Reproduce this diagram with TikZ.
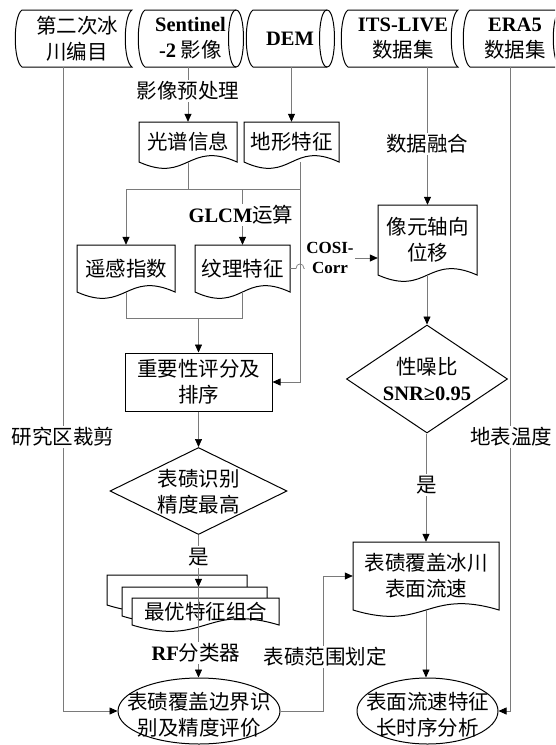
\documentclass[tikz,border=0pt]{standalone}
\usepackage{fontspec}
\setmainfont{Liberation Serif}
\newfontfamily\cjk{Noto Sans CJK SC}
\usetikzlibrary{shapes.geometric,arrows.meta}
\definecolor{linegray}{HTML}{7A7A7A}
\newcommand\en[1]{{\rmfamily\bfseries #1}}
% document shape: name, x1, y1, x2, y2 (rect part), text
\newcommand\docbox[6]{%
  \draw[shapeline,fill=white] (#2,#3) -- (#4,#3) -- (#4,#5)
    .. controls ({(#2+#4)/2},#5-22) and ({(#2+#4)/2},#5+22) .. (#2,#5) -- cycle;
  \node[txt,minimum width={(#4-#2)*1pt},minimum height={(#5-#3)*1pt}] (#1) at ({(#2+#4)/2},{(#3+#5)/2}) {#6};
}
% stored data shape
\newcommand\storebox[6]{%
  \draw[shapeline,fill=white] (#2,#3) -- (#4,#3)
    .. controls (#4-9,#3+6) and (#4-9,#5-6) .. (#4,#5) -- (#2,#5)
    .. controls (#2-9,#5-6) and (#2-9,#3+6) .. (#2,#3) -- cycle;
  \node[txt,minimum width={(#4-#2)*1pt},minimum height={(#5-#3)*1pt}] (#1) at ({(#2+#4)/2},{(#3+#5)/2}) {#6};
}
% direct access storage (cylinder) shape
\newcommand\cylbox[6]{%
  \draw[shapeline,fill=white] (#2,#3) -- (#4,#3)
    .. controls (#4+10,#3) and (#4+10,#5) .. (#4,#5) -- (#2,#5)
    .. controls (#2-9,#5-6) and (#2-9,#3+6) .. (#2,#3) -- cycle;
  \draw[shapeline] (#4,#3) .. controls (#4-10,#3) and (#4-10,#5) .. (#4,#5);
  \node[txt,minimum width={(#4-#2)*1pt},minimum height={(#5-#3)*1pt}] (#1) at ({(#2+#4)/2},{(#3+#5)/2}) {#6};
}
\begin{document}
\begin{tikzpicture}[x=1pt,y=-1pt,
  shapeline/.style={draw=black,line width=1pt},
  txt/.style={font=\fontsize{20.5}{26}\selectfont\cjk,align=center,inner sep=0pt},
  conn/.style={draw=linegray,line width=0.7pt},
  arr/.style={conn,-{Triangle[length=8pt,width=7pt,color=black]}},
  lbl/.style={txt,fill=white,inner sep=1.5pt}]
\useasboundingbox (0,0) rectangle (555,745);
\fill[white] (0,0) rectangle (555,745);
\clip (0,0) rectangle (555,745);

% top row
\storebox{b1}{22}{10}{132}{67}{第二次冰\\川编目}
\cylbox{b2}{145}{10}{236}{67}{\en{Sentinel}\\\en{-2} 影像}
\cylbox{b3}{253}{10}{327}{67}{\en{DEM}}
\storebox{b4}{348}{10}{458}{67}{\en{ITS-LIVE}\\数据集}
\storebox{b5}{470}{10}{560}{67}{\en{ERA5}\\数据集}

% left column
\docbox{spec}{139}{122}{237}{162}{光谱信息}
\docbox{terr}{244}{122}{339}{162}{地形特征}
\docbox{rs}{77}{245}{175}{292}{遥感指数}
\docbox{tex}{195}{245}{290}{292}{纹理特征}
\node[txt,shapeline,draw,rectangle,minimum width=147pt,minimum height=58pt] (imp) at (198.5,382) {重要性评分及\\排序};
\node[shapeline,diamond,minimum width=177pt,minimum height=87pt,inner sep=0pt] (d1) at (198.5,491) {};
\node[txt] (d1t) at (198.5,492) {表碛识别\\精度最高};
\docbox{md1}{107}{575}{247}{605}{}
\docbox{md2}{122}{587}{267}{616}{}
\docbox{md3}{132}{598}{279}{625}{最优特征组合}
\node[shapeline,ellipse,minimum width=162pt,minimum height=66pt,inner sep=0pt] (e1) at (199,711) {};
\node[txt] (e1t) at (199,715) {表碛覆盖边界识\\别及精度评价};

% right column
\docbox{pix}{378}{205}{477}{275}{像元轴向\\位移}
\node[shapeline,diamond,minimum width=161pt,minimum height=108pt,inner sep=0pt] (snr) at (427,379) {};
\node[txt] (snrt) at (427,379) {性噪比\\\en{SNR≥0.95}};
\docbox{vel}{353}{542}{499}{610}{表碛覆盖冰川\\表面流速}
\node[shapeline,ellipse,minimum width=141pt,minimum height=66pt,inner sep=0pt] (e2) at (427.5,711) {};
\node[txt] (e2t) at (427.5,715) {表面流速特征\\长时序分析};

\node[lbl,font=\fontsize{17}{20}\selectfont] (cosi) at (330,258) {\en{COSI-}\\\en{Corr}};

% connectors
\coordinate (hj) at (0,189);
\coordinate (hj2) at (0,318);
\coordinate (tk) at (323,711);
\draw[arr] ([xshift=-14pt]b1.south) |- (e1.west);
\draw[arr] (spec.north |- b2.south) -- (spec.north);
\draw[arr] (terr.north |- b3.south) -- (terr.north);
\draw[arr] (pix.north |- b4.south) -- (pix.north);
\draw[arr] ([xshift=-5pt]b5.south) |- (e2.east);

\draw[conn] (spec.south) -- (spec.south |- hj);
\draw[conn] (rs.north |- hj) -- ([xshift=8.5pt]terr.south |- hj);
\draw[arr] (rs.north |- hj) -- (rs.north);
\draw[arr] (tex.north |- hj) -- (tex.north);
\draw[arr] ([xshift=8.5pt]terr.south) |- (imp.east);

\draw[conn] (rs.south) |- (tex.south |- hj2) -- (tex.south);
\draw[arr] (imp.north |- hj2) -- (imp.north);

\draw[conn] (tex.east) -- (296,268.5) .. controls (296,262.5) and (304,262.5) .. (304,268.5) -- (cosi.west |- tex.east);
\draw[arr] (cosi.east) -- (cosi.east -| pix.west);

\draw[arr] (snr.north |- pix.south) -- (snr.north);
\draw[arr] (vel.north |- snr.south) -- (vel.north);
\draw[arr] (vel.south) -- (vel.south |- e2.north);

\draw[arr] (imp.south) -- (d1.north);
\draw[arr] (d1.south) -- (d1.south |- md2.north);
\draw[arr] (d1.south |- md2.north) -- (d1.south |- e1.north);
\draw[arr] (e1.east) -- (tk) |- (vel.west);

% labels
\node[lbl] (l1) at (188,91) {影像预处理};
\node[lbl] (l2) at (427,144) {数据融合};
\node[lbl] (l3) at (241,215) {\en{GLCM}运算};
\node[lbl] (l4) at (63,437) {研究区裁剪};
\node[lbl] (l5) at (511,437) {地表温度};
\node[lbl] (l6) at (427,485) {是};
\node[lbl] (l7) at (198.5,557) {是};
\node[lbl] (l8) at (196,653) {\en{RF}分类器};
\node[lbl] (l9) at (325,657) {表碛范围划定};
\end{tikzpicture}
\end{document}
